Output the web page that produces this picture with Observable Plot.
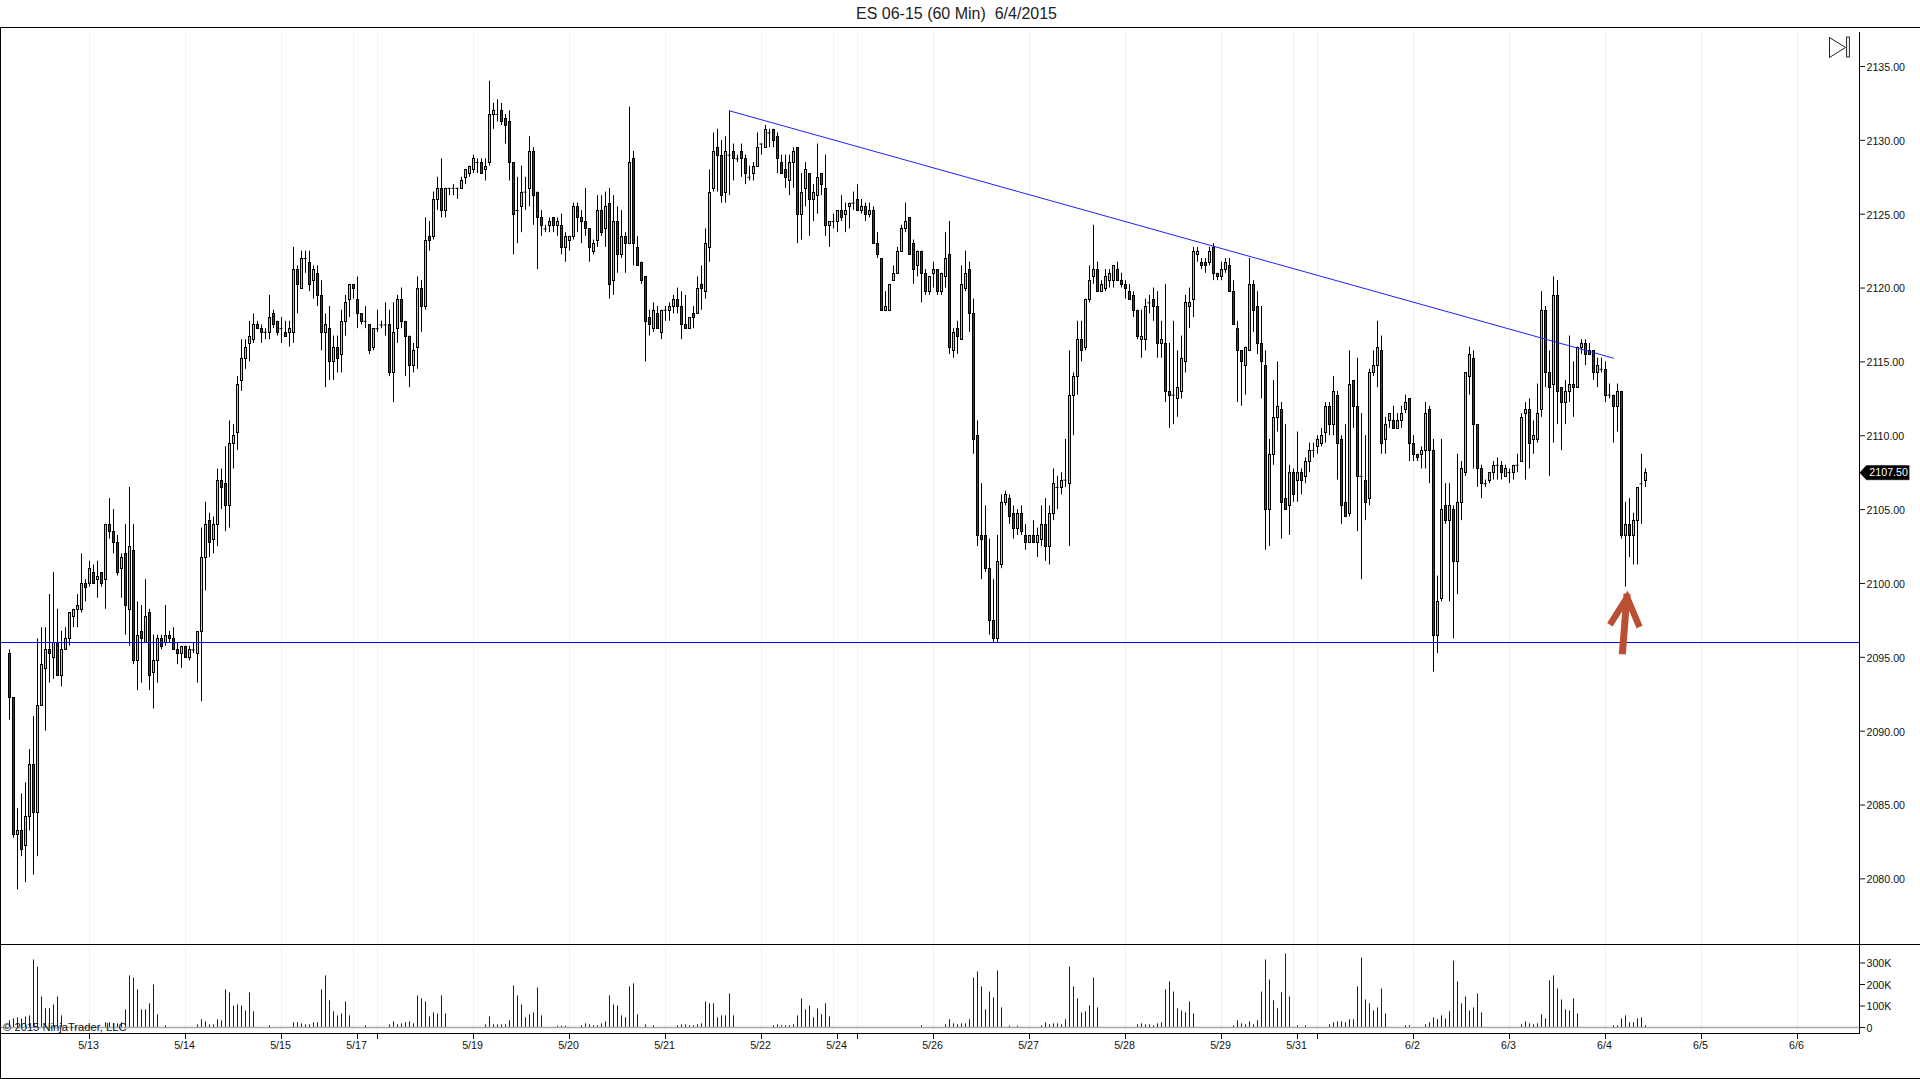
<!DOCTYPE html>
<html>
<head>
<meta charset="utf-8">
<script src="https://cdn.jsdelivr.net/npm/d3@7"></script>
<script src="https://cdn.jsdelivr.net/npm/@observablehq/plot@0.6"></script>
<style>
html,body{margin:0;padding:0;background:#fff;width:1920px;height:1079px;overflow:hidden;font-family:"Liberation Sans",Arial,sans-serif}
.abs{position:absolute}
.line{position:absolute;background:#000}
#title{position:absolute;left:0;top:0;width:1913px;height:27px;line-height:27px;text-align:center;font-size:16px;color:#222;white-space:pre}
#price,#volume{position:absolute;left:0}
#price{top:28px}
#volume{top:944px}
svg{display:block;background:transparent}
</style>
</head>
<body>
<div id="title">ES 06-15 (60 Min)  6/4/2015</div>
<div id="price"></div>
<div id="volume"></div>
<div class="line" style="left:0;top:27px;width:1920px;height:1px"></div>
<div class="line" style="left:0;top:944px;width:1920px;height:1px"></div>
<div class="line" style="left:0;top:1078px;width:1920px;height:1px"></div>
<div class="line" style="left:0;top:27px;width:1px;height:1052px"></div>
<script>
const open = [
2095.25,2092.25,2083,2083.25,2082.25,2084.25,2087.75,2084.5,2091.75,2094.25,
2095.5,2095,2096,2093.75,2095.5,2096.25,2097.75,2098.25,2098.25,2100,
2100,2100.75,2100.25,2100.75,2100.25,2104,2103.5,2102.75,2101,2102,
2098.25,2102.25,2094.75,2096.75,2096,2098,2094,2094.75,2096.25,2096,
2096.5,2096.25,2095.5,2095.25,2095.75,2095,2095.5,2095.25,2096.75,2101.75,
2104.25,2103,2104,2107,2106.75,2105.25,2109.5,2110.25,2113.75,2115.25,
2116.25,2116.5,2117.5,2117.25,2117,2117,2118.25,2117.75,2117.25,2117,
2117,2117,2121.25,2120,2122,2121.75,2120.5,2121,2119.5,2117,
2117.25,2115,2116,2115.5,2117.75,2119.25,2120.25,2119.25,2118.25,2117.75,
2117.5,2116,2117.25,2117.5,2117.5,2117.5,2114.25,2117.25,2119.25,2117.75,
2116.75,2114.75,2116,2120,2118.75,2123.5,2123.5,2126,2126.75,2125.25,
2126.75,2126.75,2126.75,2126.75,2127.5,2127.75,2128,2128.5,2128.5,2128,
2128.5,2131.75,2131.75,2132,2131.5,2131.25,2128.5,2125.25,2125.5,2126.5,
2126.75,2129.25,2126.5,2124.75,2124,2124.25,2124.75,2124.25,2124.25,2122.75,
2123.25,2123.5,2125.5,2124.75,2124.5,2124,2122.5,2123.25,2125.25,2124,
2125.75,2120.5,2124.5,2122.25,2123.5,2123,2128.75,2122.75,2121.75,2120.75,
2118,2117.25,2118.25,2117,2118.5,2118.5,2118.75,2119.25,2118.75,2117.5,
2117.25,2118.25,2118.25,2120.25,2119.75,2122.75,2126.75,2129.5,2129,2126.5,
2129,2129.25,2128.75,2129.25,2128.75,2127.5,2127.75,2128.25,2129.75,2129.5,
2130.5,2130.75,2130.25,2128.5,2128,2127.25,2128.5,2129.5,2125,2126.75,
2127.75,2126,2126.25,2127.75,2126.75,2124.25,2124.5,2124.5,2125.25,2125,
2125.5,2125.75,2126,2125.25,2125.5,2125,2125.25,2123,2122,2118.5,
2118.5,2120.5,2121,2122.5,2124,2124.75,2123,2121.5,2122.5,2121,
2119.75,2121,2121.25,2119.75,2120.75,2122.25,2115.75,2117.25,2116.5,2120,
2121.25,2118.25,2110,2103.25,2103.25,2101,2097.5,2096.25,2101.25,2105.5,
2105.75,2104.75,2103.75,2104.75,2103.25,2102.75,2103.25,2102.75,2103,2104,
2102.5,2104.75,2106.5,2106.5,2107,2106.75,2112.75,2114,2116.5,2116,
2119.25,2120.75,2121.25,2119.75,2120,2120.5,2120.5,2121.25,2120.5,2120.25,
2119.75,2119.5,2118.5,2116.5,2116.5,2119,2119.25,2118.75,2116.25,2116.25,
2113,2112.75,2112.5,2113,2115,2118.75,2119.25,2122.25,2121.75,2121.75,
2121.75,2122.75,2121,2120.75,2121.25,2121.5,2119.75,2117.25,2115.75,2114.75,
2115.75,2120.25,2118.75,2116.25,2114.75,2105,2108.75,2111.25,2111.75,2105.75,
2105.25,2107.5,2107,2107.5,2107.25,2108.25,2109,2109.25,2109.5,2110.25,
2112,2110.75,2112.75,2109.75,2105.5,2104.75,2113.75,2112,2107.25,2107,
2105.75,2114.25,2114.75,2115.75,2109.75,2111,2111,2110.5,2111,2111.75,
2112.5,2109.5,2108.75,2108.75,2109,2111.75,2109,2096.5,2099,2105.25,
2104.25,2105,2101.5,2105.5,2107.5,2114,2115.25,2110.75,2107.75,2106.75,
2107,2107.5,2108,2108,2107.25,2107.5,2107.5,2108,2108.25,2111.5,
2111.75,2109.75,2109.75,2111.75,2118.5,2114.25,2113.5,2119.5,2113.25,2112.25,
2113,2113.5,2113.25,2116,2116.25,2115.75,2115.75,2114.25,2114.5,2114.5,
2112.75,2112.75,2112,2113,2103.25,2104,2103.25,2104.25,2106.75,2107];
const high = [
2095.5,2092.25,2084.75,2085.75,2086.5,2088.75,2091,2096.25,2097,2097,
2099.25,2100.75,2098.25,2096.75,2097,2098,2098.25,2099.25,2102,2100.25,
2101.5,2101.25,2101.5,2100.75,2104,2105.75,2105,2103.25,2102,2104,
2106.5,2104,2098.75,2098.5,2100.25,2098.25,2096.5,2096.5,2096.5,2098.5,
2096.75,2097,2096,2095.75,2095.75,2095.75,2096,2096.75,2103.75,2105.5,
2104.75,2104.5,2107.75,2107.75,2109.25,2111,2110.75,2114,2116.5,2116.5,
2117.75,2118.25,2117.75,2117.5,2117.25,2119.5,2118.5,2117.75,2118,2117.75,
2117.75,2122.75,2121.5,2122.5,2122.5,2122.5,2121.5,2121.5,2120.5,2118.25,
2118.75,2116.75,2116.75,2118.5,2119.5,2120.25,2120.25,2120.75,2118.25,2118.75,
2117.5,2117.25,2118.5,2117.75,2119,2118.5,2119,2119.5,2120,2117.75,
2116.75,2116.25,2120.75,2120.5,2124.75,2124.5,2126.5,2127.5,2128.75,2126.75,
2126.75,2127,2126.75,2127.5,2128,2128.25,2129,2128.75,2128.75,2128.75,
2134,2132.5,2132.75,2132.5,2131.75,2132,2128.5,2127.5,2128.25,2127.5,
2130.25,2129.5,2126.5,2125.25,2124.25,2124.75,2124.75,2124.75,2125,2123.75,
2123.5,2125.75,2125.75,2125.25,2126.75,2124,2123.25,2126.25,2126.25,2126.5,
2126.75,2126.25,2125.5,2125.25,2123.75,2132.25,2129.25,2123.5,2121.75,2120.75,
2118.5,2119,2118.75,2118.5,2118.75,2119,2119.5,2120,2119.75,2119.5,
2118,2118.75,2120.75,2121.5,2124,2128,2130.5,2130.75,2130,2130.25,
2132,2129.75,2129,2129.75,2129,2128.25,2128.5,2130.5,2129.75,2131,
2130.75,2130.75,2130.5,2129,2129,2129,2129.5,2129.5,2127.75,2128.5,
2127.75,2127,2129.75,2127.75,2129,2124.5,2125,2125.25,2126.25,2125.75,
2125.75,2126.5,2127,2126,2125.75,2125.75,2125.5,2123.75,2122,2119.75,
2120.25,2121.5,2122.75,2124.25,2125.75,2124.75,2123.25,2122.5,2122.5,2121.25,
2120.75,2121.75,2121.25,2121,2123.75,2124.5,2117.25,2117.75,2121.5,2122.5,
2121.75,2119.25,2111,2106.75,2105.25,2103,2100.25,2103.25,2106,2106.25,
2106,2105.25,2105,2105.25,2104,2103.25,2104.25,2103.75,2105.25,2105.75,
2105.25,2107.75,2107.25,2107.5,2109.75,2115.75,2114.25,2117.75,2117.75,2119.25,
2121.5,2124.25,2121.75,2120.5,2121.25,2121.25,2121.5,2121.75,2121,2120.5,
2120.25,2119.75,2118.5,2118.5,2119.25,2119.5,2120,2119.75,2117.75,2120.25,
2116.25,2117.75,2115.75,2116.75,2119.5,2120,2122.75,2122.75,2122,2122,
2122.75,2123,2121,2121.75,2122,2122,2120.5,2117.75,2115.75,2116,
2122,2120.5,2119.75,2118.75,2115.75,2109.75,2113.75,2115,2112.25,2110.75,
2108,2107.75,2110.25,2107.75,2108.5,2109.5,2109.5,2110,2110.5,2112.25,
2112.25,2114,2113,2110,2110.75,2115.75,2113.75,2115.25,2111.5,2110,
2114.5,2115.75,2117.75,2116.75,2111.25,2111.5,2112,2111.5,2112,2112.75,
2112.5,2110,2108.75,2109.25,2112.25,2112,2109.75,2100.5,2109.75,2106.75,
2106.75,2105.25,2108.75,2108.25,2114.25,2116,2115.75,2110.75,2108,2107,
2107.5,2108.25,2108.5,2108.25,2108,2107.75,2108,2108.75,2111.5,2112.25,
2112.5,2111,2113.5,2119.75,2118.75,2115.75,2120.75,2120.5,2113.25,2113.75,
2116.75,2115,2116,2116.5,2116.5,2116.25,2115.75,2115.25,2115.25,2115,
2113.5,2112.75,2113.5,2113,2105.5,2105.75,2104.75,2106.5,2108.75,2107.75];
const low = [
2090.75,2082.75,2079.25,2081.5,2079.75,2083.25,2080.25,2081.5,2091.75,2090,
2093.25,2093.5,2093.75,2093,2095.5,2095.75,2097,2097,2098,2098.75,
2099.75,2100,2099,2099.75,2098.25,2103,2102,2100.5,2099,2096.5,
2095.75,2094.5,2092.75,2093.25,2096,2092.75,2091.5,2093.25,2095.5,2095.75,
2096,2095.5,2094.5,2094.25,2095,2094.75,2095.25,2093.25,2092,2099.5,
2101.75,2102,2102.5,2105,2103.5,2103.75,2107.75,2109,2113,2114.5,
2115,2116.25,2117.25,2116.25,2116.5,2116.5,2117.25,2116.75,2116.25,2116.75,
2116,2116.25,2118.25,2120,2121,2119.75,2119.25,2118.75,2115.75,2113.25,
2113.75,2113.75,2114.25,2114.25,2116.75,2118,2119.25,2117.25,2117.5,2117.25,
2115.5,2115.75,2117,2117.25,2116.75,2114,2112.25,2116.25,2117.25,2114,
2113.25,2114.25,2114.5,2117,2118.5,2122.5,2123.25,2125.25,2124.75,2124.75,
2126.25,2126.25,2126,2126.75,2127,2127.5,2127.75,2127.75,2127.75,2127.25,
2128.25,2130.75,2131.25,2131,2129.75,2127.25,2122.25,2123,2123.75,2125.25,
2125.5,2124.25,2121.25,2123.5,2123.75,2123.75,2123.75,2123.5,2122.25,2121.75,
2122.5,2123.25,2123.75,2123,2123.5,2121.75,2122.25,2122.75,2123.5,2122.75,
2119.25,2119.5,2121,2122,2121,2123,2121.5,2121.5,2120.25,2115,
2116.75,2117,2117.25,2116.5,2117.75,2117.75,2118.25,2118.25,2116.5,2117.25,
2117.25,2117.25,2118.25,2118.5,2119.25,2121.75,2126.5,2126.5,2125.75,2125.75,
2126.25,2127.25,2128.5,2127.5,2127,2127.25,2127.25,2128.25,2129,2129.5,
2129.5,2129.5,2127.75,2127.75,2126.75,2126.25,2126.75,2123,2123.25,2125.5,
2123.5,2124.5,2125,2126.25,2123.5,2122.75,2124,2123.75,2124.5,2123.75,
2124,2125.25,2125.25,2125,2124.5,2124.75,2123,2122,2118.5,2118.5,
2118.5,2120.5,2121,2122.5,2123.75,2122.25,2120.25,2120.75,2119,2119.5,
2119.5,2120,2119.5,2119.5,2120,2115.5,2115.25,2115.5,2116.5,2119.75,
2117,2108.75,2102.5,2100.25,2100.75,2096.5,2096,2096,2101,2105.25,
2104,2103,2103.25,2103.25,2102.25,2102.75,2102.75,2101.75,2102.5,2101.5,
2101.25,2104.25,2105,2106,2106.5,2102.5,2110,2112.75,2115,2115.75,
2119,2120.25,2119.75,2119.75,2119.75,2120,2120,2120.5,2120,2119.25,
2119.25,2118,2116.5,2115.25,2115.75,2118.25,2117.75,2115.25,2115.25,2112.25,
2110.5,2110.75,2111.25,2112.5,2114.25,2117.25,2118,2121.75,2121.25,2121,
2121.5,2120.5,2120.5,2120.5,2121,2119.75,2117.5,2112.25,2112,2112.75,
2115.75,2117,2115.5,2112.5,2102.25,2102.5,2108,2110.25,2103,2105,
2103.25,2105.5,2105.5,2106,2106.75,2107.5,2108.5,2108.75,2109.25,2109.5,
2110,2110,2107,2104,2104.5,2104.5,2110.5,2103.5,2100.25,2104.25,
2105.25,2114,2113.25,2108.75,2108.75,2110.5,2110.5,2110.5,2110.5,2111.5,
2108.25,2108.25,2108.25,2107.75,2107.75,2106.75,2094,2095.25,2098.75,2104,
2098.75,2096.25,2099.25,2104.25,2107.25,2112.75,2107.75,2106.5,2105.75,2106.5,
2106.75,2107,2107,2107,2107.25,2106.75,2107,2107.5,2108.25,2107,
2107.75,2108.75,2109.5,2111.25,2113.25,2107.25,2109.5,2110.75,2109,2110.75,
2112.25,2111.25,2113.25,2115.5,2114.75,2115.5,2113.75,2113.25,2114.25,2112.25,
2112.5,2109.5,2110.25,2103,2099.75,2101.75,2101.25,2101.25,2104,2106.5];
const close = [
2092.25,2083,2083.25,2082,2084.25,2087.75,2084.5,2091.75,2094.5,2095.5,
2095.25,2096,2093.75,2095.5,2096.25,2098,2098.25,2098.5,2100,2099.75,
2101,2100,2100.5,2100,2104,2103.5,2102.75,2100.75,2101.75,2098.5,
2102.5,2094.75,2096.5,2096.25,2097.75,2093.75,2094.75,2096.25,2095.75,2096.5,
2096.25,2095.5,2095.25,2095.75,2095,2095.5,2095.5,2096.75,2101.75,2104,
2102.75,2104,2107,2106.5,2105.25,2109.5,2110,2113.5,2115.25,2116,
2116.75,2117.5,2117.25,2117,2117,2118,2117.5,2117,2117.25,2116.75,
2117.25,2121.25,2120.25,2122,2122,2120.25,2121.25,2119.5,2117,2117.5,
2115,2116,2115.25,2117.75,2119,2120.25,2120,2118.25,2117.75,2117.75,
2115.75,2117.25,2117.25,2117.5,2117.5,2114.25,2117,2119.25,2117.75,2116.75,
2114.75,2115.75,2120,2118.75,2123.25,2123.25,2126,2126.75,2125.25,2126.75,
2126.75,2126.75,2126.75,2127.25,2128,2128.25,2128.75,2128.5,2127.75,2128.25,
2131.75,2132,2131.75,2131.25,2131,2128.5,2125,2125.25,2126.5,2126.5,
2129.25,2126.25,2124.75,2124.25,2124,2124.5,2124.25,2124.5,2122.75,2123.5,
2123.5,2125.5,2124.75,2124.5,2124,2122.75,2123,2125.25,2123.75,2125.5,
2120.25,2124.5,2122.25,2123.5,2123,2128.5,2123,2121.5,2120.5,2117.75,
2117.5,2118.5,2117.25,2118.5,2118.5,2118.75,2119.25,2118.75,2117.5,2117.25,
2118,2118,2120,2120,2123,2126.5,2129.25,2129,2126.25,2129.25,
2129,2128.75,2128.75,2128.75,2127.75,2127.5,2128.25,2129.5,2129.75,2130.75,
2130.5,2130,2128.75,2127.75,2127.5,2128.5,2129.25,2125,2126.5,2128,
2126,2126.5,2127.5,2127,2124.25,2124.5,2124.5,2125.25,2124.75,2125.25,
2125.75,2125.75,2125.25,2125.5,2125,2125.25,2123,2122.25,2118.5,2118.75,
2120.25,2121,2122.5,2124,2124.5,2122.25,2121.25,2122.5,2121,2119.75,
2120.75,2121.25,2119.75,2121,2122,2116,2117,2116.75,2120.25,2121,
2118.25,2109.75,2103.25,2103,2101,2097.5,2096.25,2101.5,2105.5,2106,
2104.5,2103.75,2104.75,2103.5,2102.75,2103.25,2102.75,2103.25,2104,2102.5,
2104.75,2106.75,2106.5,2107,2107,2112.75,2114,2116.5,2115.75,2119.25,
2120.5,2121.25,2119.75,2120.25,2120.75,2121,2121.5,2120.5,2120.25,2120,
2119.25,2118.5,2116.75,2116.75,2118.75,2119,2118.75,2116.25,2116.5,2113,
2112.75,2112.75,2113.25,2115.25,2119,2119,2122.5,2122.5,2121.5,2121.5,
2122.5,2121,2120.75,2121.25,2121.75,2119.75,2117.5,2115.75,2115,2116,
2120.25,2118.5,2116.25,2115,2105,2108.75,2111.25,2112,2105.5,2105,
2107.5,2106,2107.5,2107,2108.25,2109,2109,2109.75,2110,2112,
2110.75,2113,2109.5,2105.25,2104.5,2113.5,2112,2107.25,2107.25,2105.5,
2114.25,2114.75,2116,2109.5,2110.75,2111.5,2110.5,2111,2111.5,2112.25,
2109.5,2108.75,2108.5,2109,2111.5,2109,2096.5,2098.75,2105,2104.25,
2105.25,2101.5,2105.5,2107.75,2114.25,2115.5,2110.75,2107.75,2106.75,2106.75,
2107.5,2108,2108,2107.5,2107.75,2107.5,2108,2108,2111.25,2111.75,
2109.5,2110,2111.5,2118.5,2114.25,2113.25,2119.5,2113,2112.25,2113,
2113.5,2113.25,2116,2116.25,2115.5,2115.5,2114.25,2114.75,2114.5,2112.75,
2112.75,2112,2113,2103.25,2104,2103.25,2104.25,2106.5,2106.75,2107.5];

const volIndex = [0,1,2,3,4,5,6,7,8,9,10,11,12,13,24,25,26,27,28,29,30,31,32,33,34,35,36,37,39,
47,48,49,50,51,52,53,54,55,56,57,58,59,60,61,65,
71,72,73,74,75,76,77,78,79,80,81,82,83,84,85,89,
95,96,97,98,99,100,101,102,103,104,105,106,107,108,109,
119,120,121,122,123,124,125,126,127,128,129,130,131,132,133,137,138,139,
143,144,145,146,147,148,149,150,151,152,153,154,155,156,157,159,161,
167,168,169,170,171,172,173,174,175,176,177,178,179,180,181,
191,192,193,194,195,196,197,198,199,200,201,202,203,204,205,228,
234,235,236,237,238,239,240,241,242,243,244,245,246,247,248,250,252,
258,259,260,261,262,263,264,265,266,267,268,269,270,271,272,
282,283,284,285,286,287,288,289,290,291,292,293,294,295,296,
306,307,308,309,310,311,312,313,314,315,316,317,318,319,320,322,324,
330,331,332,333,334,335,336,337,338,339,340,341,342,343,344,349,350,
354,355,356,357,358,359,360,361,362,363,364,365,366,367,368,
378,379,380,381,382,383,384,385,386,387,388,389,390,391,392,
401,402,403,404,405,406,407,408,409];
const volK = [31,40,45,39,49,54,314,281,142,87,87,105,142,54,22,22,17,17,22,82,240,230,175,82,82,110,198,59,8,
12,36,26,12,12,36,31,175,161,100,105,100,77,161,73,8,
22,22,17,12,12,22,22,175,240,124,73,54,63,119,54,8,
12,26,12,17,22,26,17,147,133,119,49,68,63,147,63,
12,49,12,12,12,12,31,193,147,105,45,59,68,184,54,6,6,6,
8,17,12,8,8,17,26,147,105,100,54,45,189,203,59,12,8,
8,12,12,8,8,12,17,119,110,110,45,54,54,156,54,
8,12,8,8,8,12,54,133,82,100,45,87,59,110,49,8,
12,36,17,12,17,17,36,230,258,189,82,165,138,263,91,6,6,
8,22,12,17,17,12,36,281,189,133,68,73,100,230,91,
12,17,12,12,8,17,22,175,212,165,87,77,68,119,63,
8,31,17,12,26,12,31,165,314,221,124,87,161,342,142,8,8,
12,22,26,26,22,36,36,189,323,128,110,77,91,179,63,8,8,
12,22,45,36,54,40,73,309,212,110,142,77,91,156,68,
12,26,17,12,17,59,40,217,240,179,128,82,77,133,63,
8,8,40,54,22,22,40,45,8];

const priceTicks = [2080,2085,2090,2095,2100,2105,2110,2115,2120,2125,2130,2135];
const volTicks = [0,100,200,300];
const gridIndex = [20,44,68,86,92,116,140,164,188,206,212,231,255,279,303,321,327,351,375,399,423,447];
const tickIndex = [20,44,68,87,92,116,140,164,188,207,212,231,255,279,303,322,327,351,375,399,423,447];
const tickLabels = ["5/13","5/14","5/15","5/17","","5/19","5/20","5/21","5/22","5/24","","5/26","5/27","5/28","5/29","5/31","","6/2","6/3","6/4","6/5","6/6"];

const supportLevel = [2096];
const trendIndex = [180,401];
const trendPrice = [2132,2115.25];
const lastPrice = 2107.5;
const markerIndex = [462.6,464.2,474.9,474.9,464.2,462.6];
const markerPrice = [2107.5,2107.98,2107.98,2107.02,2107.02,2107.5];
const arrowShaftIndex = [403.2,404.4];
const arrowShaftPrice = [2095.2,2099.3];
const arrowHeadIndex = [400.1,404.4,407.5];
const arrowHeadPrice = [2097.2,2099.05,2097.05];
const iconIndex = [455,459,455,455];
const iconPrice = [2136.96,2136.29,2135.61,2136.96];

const bars = open.map((o,i)=>({i,o,h:high[i],l:low[i],c:close[i]}));
const up = bars.filter(d=>d.c>d.o);
const down = bars.filter(d=>d.c<d.o);
const flat = bars.filter(d=>d.c===d.o);
const pts = (xs,ys)=>xs.map((x,k)=>({x,y:ys[k]}));

const font = {fontFamily:'"Liberation Sans",Arial,sans-serif',fontSize:"10.67px",color:"#111",background:"transparent"};
const xScale = {type:"linear",domain:[0,462.5],range:[9,1859]};
const bodyStyle = {x1:d=>d.i-0.25,x2:d=>d.i+0.25,y1:"o",y2:"c",stroke:"#000",strokeWidth:1,dx:0.5,dy:0.5,shapeRendering:"crispEdges"};

const pricePlot = Plot.plot({
  width:1920,height:916,marginLeft:0,marginRight:61,marginTop:4,marginBottom:0,
  style:font,
  x:{...xScale,axis:null},
  y:{domain:[2080,2135],range:[850.35,38],axis:null},
  marks:[
    Plot.ruleX(gridIndex,{stroke:"#f1f1f1"}),
    Plot.ruleX(bars,{x:"i",y1:"l",y2:"h",stroke:"#000",strokeWidth:1}),
    Plot.rect(up,{...bodyStyle,fill:"#90e090"}),
    Plot.rect(down,{...bodyStyle,fill:"#cc0000"}),
    Plot.ruleY(flat,{y:"o",x1:d=>d.i-0.375,x2:d=>d.i+0.375,stroke:"#000",strokeWidth:1}),
    Plot.ruleY(supportLevel,{stroke:"#0000ff",strokeWidth:1}),
    Plot.line(pts(trendIndex,trendPrice),{x:"x",y:"y",stroke:"#2020ff",strokeWidth:1}),
    Plot.line(pts(arrowShaftIndex,arrowShaftPrice),{x:"x",y:"y",stroke:"#bb4f33",strokeWidth:7,strokeLinecap:"butt"}),
    Plot.line(pts(arrowHeadIndex,arrowHeadPrice),{x:"x",y:"y",stroke:"#bb4f33",strokeWidth:6.5,strokeLinecap:"butt",strokeLinejoin:"miter",strokeMiterlimit:10}),
    Plot.line(pts(iconIndex,iconPrice),{x:"x",y:"y",stroke:"#222",strokeWidth:1}),
    Plot.rect([0],{x1:459.4,x2:460.1,y1:2135.61,y2:2136.96,fill:"#fff",stroke:"#222",strokeWidth:1}),
    Plot.axisY(priceTicks,{anchor:"right",tickSize:5,tickPadding:2,label:null,tickFormat:d=>d.toFixed(2),textStroke:"none",dy:0}),
    Plot.frame({anchor:"right",stroke:"#000"}),
    Plot.line(pts(markerIndex,markerPrice),{x:"x",y:"y",fill:"#000",stroke:"#000",strokeWidth:0.5}),
    Plot.text([lastPrice.toFixed(2)],{x:474.6,y:lastPrice,textAnchor:"end",fill:"#fff",stroke:null,dy:-0.5})
  ]
});
document.getElementById("price").appendChild(pricePlot);

const vols = volIndex.map((i,k)=>({i,v:volK[k]}));
const volumePlot = Plot.plot({
  width:1920,height:135,marginLeft:0,marginRight:61,marginTop:1,marginBottom:46,
  style:font,
  x:{...xScale,axis:null},
  y:{domain:[0,300],range:[83,18.5],axis:null},
  marks:[
    Plot.ruleX(gridIndex,{stroke:"#f1f1f1"}),
    Plot.ruleX(vols,{x:"i",y1:0,y2:"v",stroke:"#0000ff",strokeWidth:1}),
    Plot.ruleY([0],{stroke:"#a8a8a8",strokeWidth:1.3}),
    Plot.text(["© 2015 NinjaTrader, LLC"],{x:-1.6,y:0,textAnchor:"start",fill:"#111",fontSize:11.2}),
    Plot.axisY(volTicks,{anchor:"right",tickSize:5,tickPadding:2,label:null,tickFormat:d=>d?d+"K":"0"}),
    Plot.axisX(tickIndex,{anchor:"bottom",tickSize:6,tickPadding:2,label:null,tickFormat:(d)=>tickLabels[tickIndex.indexOf(d)]}),
    Plot.frame({anchor:"right",stroke:"#000"}),
    Plot.frame({anchor:"bottom",stroke:"#000"})
  ]
});
document.getElementById("volume").appendChild(volumePlot);

// axis text sits one pixel lower / left in the reference terminal font metrics
document.querySelectorAll('[aria-label="y-axis tick label"]').forEach(g=>g.setAttribute("transform",(g.getAttribute("transform")||"")+" translate(0,1)"));
document.querySelectorAll('[aria-label="x-axis tick label"]').forEach(g=>g.setAttribute("transform",(g.getAttribute("transform")||"")+" translate(-1,0)"));
</script>
</body>
</html>
